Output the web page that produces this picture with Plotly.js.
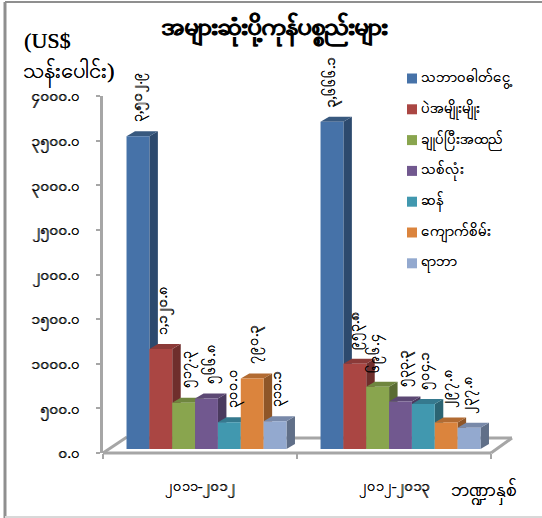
<!DOCTYPE html><html><head><meta charset="utf-8"><script src="https://cdn.plot.ly/plotly-3.0.1.min.js"></script></head><body style="margin:0;background:#fff"><div id="c" style="width:542px;height:518px"></div><script>
const categories=['၂၀၁၁-၂၀၁၂','၂၀၁၂-၂၀၁၃'];
const seriesNames=['သဘာဝဓါတ်ငွေ့','ပဲအမျိုးမျိုး','ချုပ်ပြီးအထည်','သစ်လုံး','ဆန်','ကျောက်စိမ်း','ရာဘာ'];
const values2011=[3502.9,1120.8,517.3,566.8,300.0,790.3,311.1];
const values2012=[3666.1,953.8,696.4,533.3,504.1,297.8,237.8];
const labels2011=['၃,၅၀၂.၉','၁,၁၂၀.၈','၅၁၇.၃','၅၆၆.၈','၃၀၀.၀','၇၉၀.၃','၃၁၁.၁'];
const labels2012=['၃,၆၆၆.၁','၉၅၃.၈','၆၉၆.၄','၅၃၃.၃','၅၀၄.၁','၂၉၇.၈','၂၃၇.၈'];
const frontColors=['#4672a8','#aa4643','#89a54e','#71588f','#4198af','#db843d','#93a9cf'];
const sideColors=['#2d4a6e','#6f2e2c','#5a6c33','#4a3a5e','#2b6473','#8f5628','#606f88'];
const topColors=['#38597f','#8b3a38','#6f863f','#5c4874','#35798e','#b26b32','#7889a9'];
const yTicks=[0,500,1000,1500,2000,2500,3000,3500,4000];
const yTickLabels=['၀.၀','၅၀၀.၀','၁၀၀၀.၀','၁၅၀၀.၀','၂၀၀၀.၀','၂၅၀၀.၀','၃၀၀၀.၀','၃၅၀၀.၀','၄၀၀၀.၀'];

const W=542,H=518,L=103,R=491,T=96,B=453;
const xPx=(R-L)/2, yPx=(B-T)/4000;
const shiftX=6.5/xPx, shiftY=4/yPx;
const depthX=8.5/xPx, depthY=5/yPx;
const n=seriesNames.length, barW=22.85/xPx;
const font='"Liberation Serif","DejaVu Serif",serif';
const thick='0.3px 0 0 #000';
const barX=(g,s)=>g+(s-(n-1)/2)*barW;
const groups=[values2011,values2012], labelGroups=[labels2011,labels2012];

const traces=[];
function face(xs,ys,c){return {type:'scatter',mode:'lines',x:xs,y:ys,fill:'toself',fillcolor:c,line:{width:0,color:c},xaxis:'x2',yaxis:'y2',showlegend:false,hoverinfo:'skip'};}
for(let s=0;s<n;s++)groups.forEach((vals,g)=>{
  const r=barX(g,s)+barW/2,v=vals[s];
  traces.push(face([r,r+depthX,r+depthX,r,r],[0,depthY,v+depthY,v,0],sideColors[s]));
});
for(let s=0;s<n;s++)groups.forEach((vals,g)=>{
  const l=barX(g,s)-barW/2,r=l+barW,v=vals[s];
  traces.push(face([l,r,r+depthX,l+depthX,l],[v,v,v+depthY,v+depthY,v],topColors[s]));
});
seriesNames.forEach((name,s)=>{
  traces.push({type:'bar',name,x:[0,1],y:groups.map(v=>v[s]),width:barW,offset:(s-n/2)*barW,marker:{color:frontColors[s],line:{width:0}},xaxis:'x3',yaxis:'y3',hoverinfo:'y',showlegend:false});
});
traces.push({type:'scatter',mode:'markers',x:[0,1],y:[0,0],marker:{opacity:0},showlegend:false,hoverinfo:'skip',xaxis:'x',yaxis:'y'});

const annotations=[];
const labelDx=[[1,4,4,5,4,3,3],[0,2,-2,4,3,3,0]];
groups.forEach((vals,g)=>vals.forEach((v,s)=>{
  annotations.push({xref:'x3',yref:'y3',x:barX(g,s),y:v+depthY,text:labelGroups[g][s],textangle:-90,showarrow:false,yanchor:'bottom',xanchor:'center',xshift:labelDx[g][s],yshift:7,font:{family:font,size:14.5,color:'#000',shadow:thick}});
}));
const px=(x)=>x/W, py=(y)=>1-y/H;
const paperText=(x,y,text,size,extra)=>Object.assign({xref:'paper',yref:'paper',x:px(x),y:py(y),text,showarrow:false,xanchor:'left',yanchor:'middle',font:{family:font,size,color:'#000',shadow:thick}},extra||{});
annotations.push(paperText(274,30,'အများဆုံးပို့ကုန်ပစ္စည်းများ',25,{xanchor:'center',font:{family:font,size:25,color:'#000',weight:700,shadow:'0.6px 0 0 #000'}}));
annotations.push(paperText(22,41,'(US$',22));
annotations.push(paperText(21,73,'သန်းပေါင်း)',22));
annotations.push(paperText(449,491,'ဘဏ္ဍာနှစ်',19));
const grey='#a6a6a6';
const line=(x0,y0,x1,y1,color,width)=>({type:'line',xref:'paper',yref:'paper',x0:px(x0),x1:px(x1),y0:py(y0),y1:py(y1),line:{color,width},layer:'below'});
const shapes=[
 line(5,2,5,518,'#8f8f8f',3),
 line(5,2,542,2,'#8f8f8f',2),
 line(5,517,542,517,'#d8d8d8',2),
 line(L,B,R,B,grey,3),
 line(L,B,127,437,grey,3),
 line(127,438,512,438,grey,3),
 line(R,B,512,438,grey,3),
];
seriesNames.forEach((name,s)=>{
  const y=78.5+s*30.8;
  shapes.push({type:'rect',xref:'paper',yref:'paper',x0:px(407),x1:px(417),y0:py(y-5),y1:py(y+5),fillcolor:frontColors[s],line:{width:0}});
  annotations.push(paperText(418.5,y,name,15));
});
const hiddenX=(range)=>({overlaying:'x',range,visible:false,fixedrange:true});
const hiddenY=(range)=>({overlaying:'y',range,visible:false,fixedrange:true});
const xr=[-0.5-shiftX,1.5-shiftX], yr=[-shiftY,4000-shiftY];
const layout={width:W,height:H,margin:{l:0,r:0,t:0,b:0},paper_bgcolor:'#fff',plot_bgcolor:'rgba(0,0,0,0)',
 showlegend:false,barmode:'overlay',
 xaxis:{domain:[L/W,R/W],range:[-0.5,1.5],tickmode:'array',tickvals:[0,1],ticktext:categories,ticks:'',showgrid:false,zeroline:false,showline:false,fixedrange:true,tickfont:{family:font,size:14.5,color:'#000',shadow:thick},ticklabelstandoff:22,minor:{tickmode:'array',tickvals:[-0.5,0.5,1.5],ticks:'outside',ticklen:5,tickwidth:2,tickcolor:grey,showgrid:false}},
 yaxis:{domain:[1-B/H,1-T/H],range:[0,4000],tickmode:'array',tickvals:yTicks,ticktext:yTickLabels,ticks:'outside',ticklen:4,tickwidth:2,tickcolor:grey,showline:true,linecolor:grey,linewidth:3,showgrid:false,zeroline:false,fixedrange:true,tickfont:{family:font,size:15,color:'#000',shadow:thick},ticklabelstandoff:13},
 xaxis2:hiddenX(xr),yaxis2:hiddenY(yr),xaxis3:hiddenX(xr),yaxis3:hiddenY(yr),
 annotations,shapes};
Plotly.newPlot('c',traces,layout,{displayModeBar:false});
</script></body></html>
